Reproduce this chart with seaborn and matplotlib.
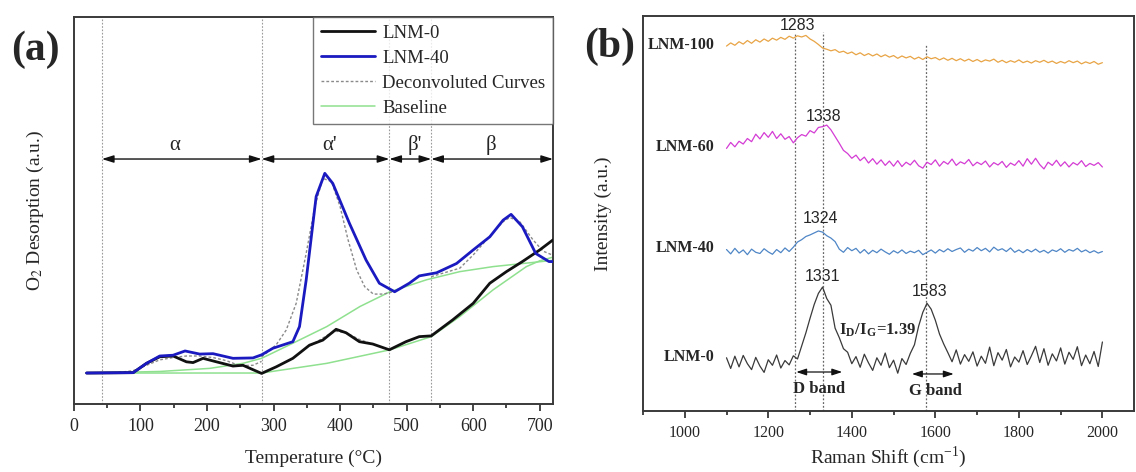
import numpy as np
import matplotlib
matplotlib.use("Agg")
import matplotlib.pyplot as plt
import seaborn as sns

# ---------------- O2-TPD data (panel a) ----------------
t_lnm0 = [19, 89, 109, 129, 149, 169, 179, 194, 214, 239, 254, 282, 304, 329, 354,
          374, 394, 409, 429, 449, 474, 499, 519, 537, 569, 600, 625, 650, 674, 700, 720]
v_lnm0 = [0.080, 0.081, 0.105, 0.122, 0.124, 0.109, 0.107, 0.118, 0.109, 0.098, 0.100,
          0.079, 0.096, 0.118, 0.152, 0.165, 0.193, 0.184, 0.161, 0.155, 0.140, 0.161,
          0.174, 0.176, 0.217, 0.260, 0.312, 0.342, 0.368, 0.398, 0.424]

t_lnm40 = [19, 89, 109, 129, 149, 167, 189, 209, 239, 269, 282, 299, 329, 339, 349, 364,
           377, 389, 414, 439, 459, 482, 504, 519, 545, 575, 600, 625, 645, 657, 674,
           694, 714, 720]
v_lnm40 = [0.080, 0.081, 0.105, 0.124, 0.126, 0.137, 0.129, 0.130, 0.118, 0.119, 0.127,
           0.144, 0.161, 0.200, 0.320, 0.536, 0.596, 0.570, 0.467, 0.372, 0.312, 0.290,
           0.312, 0.331, 0.339, 0.363, 0.398, 0.432, 0.475, 0.490, 0.458, 0.389, 0.368,
           0.368]

t_base40 = [19, 129, 204, 254, 282, 329, 380, 430, 475, 530, 580, 630, 680, 719]
v_base40 = [0.080, 0.084, 0.092, 0.105, 0.118, 0.157, 0.200, 0.252, 0.290, 0.321,
            0.342, 0.355, 0.364, 0.371]
t_base0 = [19, 282, 380, 475, 537, 580, 630, 680, 700, 719]
v_base0 = [0.080, 0.080, 0.105, 0.140, 0.174, 0.226, 0.295, 0.355, 0.370, 0.379]

# deconvoluted fit curves
t_fit_a = [60, 89, 109, 129, 149, 169, 189, 209, 229, 249, 269, 282]
v_fit_a = [0.080, 0.086, 0.100, 0.114, 0.120, 0.124, 0.124, 0.120, 0.112, 0.099, 0.100, 0.110]
t_fit_b = [282, 289, 304, 319, 334, 349, 362, 374, 387, 400, 412, 425, 437, 450, 465, 480]
v_fit_b = [0.122, 0.131, 0.153, 0.191, 0.260, 0.389, 0.510, 0.583, 0.575, 0.510, 0.424,
           0.346, 0.303, 0.284, 0.284, 0.290]
t_fit_c = [537, 580, 600, 620, 645, 655, 670, 690, 705, 719]
v_fit_c = [0.329, 0.351, 0.385, 0.424, 0.471, 0.482, 0.471, 0.424, 0.395, 0.385]
t_fit_d = [355, 370, 385, 395, 410, 430, 445]
v_fit_d = [0.150, 0.166, 0.182, 0.188, 0.183, 0.166, 0.157]

region_bounds = [42, 282, 474, 537, 720]
region_names = ["α", "α'", "β'", "β"]
region_label_x = [152, 384, 512, 627]

# ---------------- Raman data (panel b) ----------------
raman_shift = np.arange(1100, 2001, 10)
r_lnm0 = [13.5, 10.8, 13.9, 11.2, 14.1, 12.0, 10.5, 13.6, 11.4, 9.8, 13.0, 11.6, 14.2,
          10.9, 12.8, 11.7, 14.0, 13.2, 16.5, 19.8, 23.5, 27.0, 29.8, 31.4, 28.5, 26.8,
          21.0, 18.6, 15.8, 14.9, 12.0, 13.8, 11.1, 14.4, 12.2, 10.3, 13.5, 11.6, 14.7,
          11.0, 12.9, 9.6, 13.3, 11.8, 14.6, 16.8, 21.5, 25.0, 27.3, 25.8, 23.0, 19.5,
          17.0, 14.8, 12.5, 15.5, 11.9, 14.3, 12.6, 15.0, 11.4, 13.9, 12.1, 16.2, 11.5,
          14.8, 12.9, 15.6, 11.2, 13.7, 12.4, 15.3, 11.8, 14.0, 16.4, 12.3, 15.8, 11.6,
          14.5, 12.7, 16.0, 11.9, 14.9, 13.1, 16.3, 11.5, 14.2, 12.0, 15.1, 11.3, 17.5]
r_lnm40 = [40.9, 39.8, 41.2, 40.0, 40.8, 39.6, 41.0, 40.2, 39.9, 41.1, 40.3, 39.7, 40.9,
           40.1, 41.3, 40.4, 41.5, 42.8, 43.4, 44.2, 44.6, 45.1, 45.6, 45.3, 44.4, 43.8,
           42.9, 41.0, 40.2, 41.4, 40.6, 41.2, 40.0, 40.9, 39.8, 40.7, 40.1, 41.0, 40.3,
           39.7, 40.6, 40.0, 40.8, 39.9, 40.5, 40.1, 40.7, 39.6, 40.2, 40.8, 40.0, 40.9,
           40.3, 41.1, 40.4, 40.9, 41.3, 40.2, 41.0, 40.5, 41.4, 40.6, 41.2, 40.3, 41.5,
           40.7, 41.1, 40.4, 41.3, 40.2, 40.8, 40.1, 40.9, 40.3, 41.0, 40.2, 40.7, 40.0,
           40.8, 40.4, 41.1, 40.2, 40.9, 40.5, 41.2, 40.3, 40.8, 40.1, 40.6, 40.0, 40.4]
r_lnm60 = [66.5, 68.0, 66.9, 68.3, 67.6, 69.0, 68.2, 70.1, 68.9, 70.5, 69.3, 70.8, 69.0,
           70.2, 68.8, 69.5, 67.9, 69.2, 70.0, 69.6, 71.0, 70.4, 71.8, 72.0, 72.4, 71.2,
           69.5, 67.8, 66.0, 65.2, 64.0, 64.8, 63.4, 64.3, 62.8, 63.9, 62.5, 63.6, 62.2,
           63.3, 62.0, 63.4, 61.9, 63.0, 62.3, 63.5, 62.1, 61.5, 63.0, 62.4, 63.6, 62.0,
           63.2, 62.5, 63.8, 62.2, 63.1, 62.6, 63.7, 62.1, 63.0, 62.4, 63.3, 61.8, 62.9,
           62.3, 63.2, 61.7, 62.8, 62.2, 63.4, 62.0, 63.9, 62.5, 64.0, 62.4, 61.3, 63.0,
           62.2, 63.5, 62.0, 63.1, 61.8, 62.9, 62.3, 63.4, 61.9, 62.7, 62.2, 62.9, 61.8]
r_lnm100 = [92.4, 93.2, 92.6, 93.5, 92.9, 93.8, 93.1, 94.0, 93.4, 94.2, 93.6, 94.4, 93.9,
            94.6, 94.1, 94.9, 94.4, 95.0, 94.7, 95.1, 94.2, 93.6, 92.8, 91.9, 91.6, 91.2,
            91.5, 90.8, 91.1, 90.5, 90.9, 90.2, 90.7, 90.0, 90.5, 89.9, 90.4, 89.7, 90.2,
            89.6, 90.0, 89.3, 89.9, 89.4, 89.8, 89.1, 89.6, 89.0, 89.7, 89.2, 89.5, 88.9,
            89.4, 88.8, 89.3, 88.7, 89.2, 88.6, 89.1, 88.5, 89.0, 88.4, 88.9, 88.6, 89.1,
            88.3, 88.8, 88.2, 88.7, 88.3, 88.9, 88.2, 88.6, 88.1, 88.7, 88.3, 88.8, 88.2,
            88.6, 88.0, 88.5, 88.1, 88.7, 88.2, 88.6, 87.9, 88.4, 88.0, 88.5, 87.8, 88.2]

spectra = [("LNM-100", r_lnm100, "#e8a445"), ("LNM-60", r_lnm60, "#d43cd4"),
           ("LNM-40", r_lnm40, "#4f86c6"), ("LNM-0", r_lnm0, "#3a3a3a")]
peak_labels = [(1270, 97.6, "1283"), (1332, 74.6, "1338"), (1326, 48.8, "1324"),
               (1331, 34.0, "1331"), (1585, 30.4, "1583")]
raman_guides = [1265, 1331, 1577]

# ---------------- styling ----------------
sns.set_style("ticks")
serif = ["Liberation Serif", "DejaVu Serif"]
plt.rcParams["font.family"] = serif
plt.rcParams["mathtext.fontset"] = "stix"
plt.rcParams["axes.edgecolor"] = "#3a3a3a"
plt.rcParams["axes.linewidth"] = 1.4

fig = plt.figure(figsize=(11.36, 4.72), dpi=100)
ax1 = fig.add_axes([0.0651, 0.1441, 0.4217, 0.8199])
ax2 = fig.add_axes([0.566, 0.129, 0.432, 0.837])

# ---- panel (a) ----
for xb in region_bounds[:-1]:
    ax1.axvline(xb, color="#9a9a9a", lw=0.8, ls=(0, (1.5, 1.5)), zorder=1)

green = "#8fe08f"
sns.lineplot(x=t_base0, y=v_base0, ax=ax1, color=green, lw=1.1, label="Baseline",
             estimator=None, sort=False, zorder=2)
sns.lineplot(x=t_base40, y=v_base40, ax=ax1, color=green, lw=1.1,
             estimator=None, sort=False, zorder=2)
for i, (tx, vy) in enumerate([(t_fit_a, v_fit_a), (t_fit_b, v_fit_b),
                              (t_fit_c, v_fit_c), (t_fit_d, v_fit_d)]):
    sns.lineplot(x=tx, y=vy, ax=ax1, color="#8a8a8a", lw=1.0, ls=(0, (2, 1.5)),
                 label="Deconvoluted Curves" if i == 0 else None,
                 estimator=None, sort=False, zorder=3)
sns.lineplot(x=t_lnm0, y=v_lnm0, ax=ax1, color="#111111", lw=2.0, label="LNM-0",
             estimator=None, sort=False, zorder=4)
sns.lineplot(x=t_lnm40, y=v_lnm40, ax=ax1, color="#1a1ac0", lw=2.0, label="LNM-40",
             estimator=None, sort=False, zorder=5)

arrow_y = 0.633
for a, b in zip(region_bounds[:-1], region_bounds[1:]):
    ax1.annotate("", xy=(b, arrow_y), xytext=(a, arrow_y),
                 arrowprops=dict(arrowstyle="<|-|>,head_length=0.7,head_width=0.22",
                                 color="#111111", lw=1.0, shrinkA=0, shrinkB=0))
for xl, name in zip(region_label_x, region_names):
    ax1.text(xl, 0.668, name, ha="center", va="center", fontsize=15)

ax1.set_xlim(0, 720)
ax1.set_ylim(0, 1)
ax1.set_xticks(range(0, 701, 100))
ax1.set_xticks(range(50, 701, 100), minor=True)
ax1.set_yticks([])
ax1.tick_params(axis="x", which="major", length=5, width=1.2, labelsize=13, pad=5)
ax1.tick_params(axis="x", which="minor", length=3, width=1.2)
ax1.set_xlabel("Temperature (°C)", fontsize=14, labelpad=11)
ax1.set_ylabel(r"O$_2$ Desorption (a.u.)", fontsize=14, labelpad=20)
for s in ax1.spines.values():
    s.set_visible(True)

handles, labels = ax1.get_legend_handles_labels()
order = [labels.index(k) for k in ["LNM-0", "LNM-40", "Deconvoluted Curves", "Baseline"]]
leg = ax1.legend([handles[i] for i in order], [labels[i] for i in order],
                 loc="upper right", borderaxespad=0, fontsize=13.5, frameon=True,
                 fancybox=False, edgecolor="#555555", handlelength=2.9,
                 labelspacing=0.42, handletextpad=0.4, borderpad=0.4)
leg.get_frame().set_linewidth(1.0)

# ---- panel (b) ----
for xg, top in zip(raman_guides, [0.955, 0.96, 0.93]):
    ax2.axvline(xg, ymax=top, color="#666666", lw=0.9, ls=(0, (1.5, 1.5)), zorder=1)

for name, vals, col in spectra:
    sns.lineplot(x=raman_shift, y=vals, ax=ax2, color=col, lw=0.9,
                 estimator=None, sort=False, zorder=3)
    ax2.text(1072, vals[0] + 0.3, name, ha="right", va="center", fontsize=11.5,
             fontweight="bold")

for xp, yp, s in peak_labels:
    ax2.text(xp, yp, s, ha="center", va="center", fontsize=11.5,
             family=["Liberation Sans", "DejaVu Sans"])

ax2.text(1370, 20.4, r"I$_\mathregular{D}$/I$_\mathregular{G}$=1.39", ha="left",
         va="center", fontsize=12, fontweight="bold")
ax2.annotate("", xy=(1377, 9.9), xytext=(1267, 9.9),
             arrowprops=dict(arrowstyle="<|-|>,head_length=0.6,head_width=0.2",
                             color="#111111", lw=0.9, shrinkA=0, shrinkB=0))
ax2.annotate("", xy=(1644, 9.4), xytext=(1544, 9.4),
             arrowprops=dict(arrowstyle="<|-|>,head_length=0.6,head_width=0.2",
                             color="#111111", lw=0.9, shrinkA=0, shrinkB=0))
ax2.text(1322, 5.6, "D band", ha="center", va="center", fontsize=12, fontweight="bold")
ax2.text(1601, 5.1, "G band", ha="center", va="center", fontsize=12, fontweight="bold")

ax2.set_xlim(900, 2075)
ax2.set_ylim(0, 100)
ax2.set_xticks(range(1000, 2001, 200))
ax2.set_xticks(range(900, 2075, 100), minor=True)
ax2.set_yticks([])
ax2.tick_params(axis="x", which="major", length=5, width=1.2, labelsize=11.5, pad=5)
ax2.tick_params(axis="x", which="minor", length=3, width=1.2)
ax2.set_xlabel(r"Raman Shift (cm$^{\mathregular{-1}}$)", fontsize=14, labelpad=3)
ax2.set_ylabel("Intensity (a.u.)", fontsize=14, labelpad=22)

fig.text(0.031, 0.895, "(a)", fontsize=30, fontweight="bold", ha="center", va="center")
fig.text(0.537, 0.90, "(b)", fontsize=30, fontweight="bold", ha="center", va="center")

fig.savefig("out.png", dpi=100)
